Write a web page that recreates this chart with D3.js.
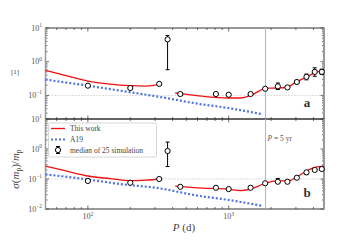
<!DOCTYPE html>
<html>
<head>
<meta charset="utf-8">
<script src="https://cdn.jsdelivr.net/npm/d3@7"></script>
<style>
body{margin:0;background:#fff;}
svg text{font-family:"Liberation Serif","DejaVu Serif",serif;}
</style>
</head>
<body>
<script>
// periods of the simulated samples (days)
const periods = [100, 200, 321, 368, 453, 811, 1000, 1430, 1815, 2233, 2613, 3047, 3566, 4083, 4580];
// panel a: median and error range
const medA = [0.195, 0.166, 0.22, 4.6, 0.11, 0.11, 0.105, 0.11, 0.158, 0.186, 0.173, 0.25, 0.355, 0.50, 0.50];
const loA  = [0.18, 0.155, 0.205, 0.58, 0.104, 0.104, 0.099, 0.104, 0.148, 0.15, 0.16, 0.225, 0.29, 0.37, 0.42];
const hiA  = [0.21, 0.178, 0.235, 6.0, 0.117, 0.117, 0.112, 0.117, 0.17, 0.234, 0.19, 0.28, 0.43, 0.66, 0.6];
// panel b
const medB = [0.086, 0.075, 0.1, 0.86, 0.055, 0.051, 0.046, 0.051, 0.072, 0.081, 0.081, 0.11, 0.167, 0.2, 0.215];
const loB  = [0.082, 0.071, 0.095, 0.26, 0.052, 0.048, 0.044, 0.048, 0.068, 0.072, 0.077, 0.104, 0.14, 0.19, 0.205];
const hiB  = [0.09, 0.079, 0.105, 1.7, 0.058, 0.054, 0.048, 0.054, 0.076, 0.104, 0.086, 0.116, 0.176, 0.21, 0.225];
// "This work" curve, two pieces
const fitP1 = [50, 70, 100, 144, 200, 260, 330];
const fitA1 = [0.557, 0.387, 0.265, 0.216, 0.195, 0.19, 0.216];
const fitB1 = [0.27, 0.185, 0.126, 0.103, 0.088, 0.092, 0.1];
const fitP2 = [417, 491, 650, 990, 1206, 1420, 1618, 1815, 2233, 2613, 3047, 3566, 4083, 4750];
const fitA2 = [0.118, 0.11, 0.095, 0.084, 0.084, 0.098, 0.129, 0.164, 0.166, 0.178, 0.257, 0.35, 0.47, 0.55];
const fitB2 = [0.058, 0.055, 0.05, 0.046, 0.041, 0.046, 0.058, 0.072, 0.086, 0.086, 0.117, 0.185, 0.245, 0.27];
// A19
const a19P = [50, 100, 170, 321, 600, 1000, 1750];
const a19A = [0.294, 0.195, 0.138, 0.091, 0.057, 0.042, 0.0275];
const a19B = [0.143, 0.096, 0.068, 0.049, 0.028, 0.02, 0.0126];

const legendLabels = ["This work", "A19", "median of 25 simulation"];
const P5yr = 5 * 365.25;

const width = 360, height = 240;
const left = 45.5, right = 324;
const svg = d3.select("body").append("svg").attr("width", width).attr("height", height);

const x = d3.scaleLog().domain([50, 4750]).range([left, right]);
const yA = d3.scaleLog().domain([0.02, 10]).range([119, 28]);
const yB = d3.scaleLog().domain([0.01, 10]).range([209, 119]);

const xMinor = [60,70,80,90,200,300,400,500,600,700,800,900,2000,3000,4000];
const xMajor = [100, 1000];

function panel(y, med, lo, hi, fit1, fit2, a19, tag, yMajors) {
  const [yb, yt] = y.range();
  const g = svg.append("g");
  g.append("rect").attr("x", left).attr("y", yt).attr("width", right - left).attr("height", yb - yt)
    .attr("fill", "none").attr("stroke", "#333").attr("stroke-width", 1);

  // reference lines
  g.append("line").attr("x1", left).attr("x2", right).attr("y1", y(0.1)).attr("y2", y(0.1))
    .attr("stroke", "#bbb").attr("stroke-width", 1).attr("stroke-dasharray", "1,2");
  g.append("line").attr("x1", x(P5yr)).attr("x2", x(P5yr)).attr("y1", yt).attr("y2", yb)
    .attr("stroke", "#b5b5b5").attr("stroke-width", 1);

  // ticks
  const ticks = g.append("g").attr("stroke", "#333").attr("stroke-width", 0.7);
  [[xMajor, 3.5], [xMinor, 2]].forEach(([vals, len]) => {
    vals.forEach(v => {
      ticks.append("line").attr("x1", x(v)).attr("x2", x(v)).attr("y1", yb).attr("y2", yb - len);
      ticks.append("line").attr("x1", x(v)).attr("x2", x(v)).attr("y1", yt).attr("y2", yt + len);
    });
  });
  const [d0, d1] = y.domain();
  for (let e = -3; e <= 1; e++) {
    for (let m = 1; m <= 9; m++) {
      const v = m * Math.pow(10, e);
      if (v < d0 || v > d1) continue;
      const len = m === 1 ? 3.5 : 2;
      ticks.append("line").attr("x1", left).attr("x2", left + len).attr("y1", y(v)).attr("y2", y(v));
      ticks.append("line").attr("x1", right).attr("x2", right - len).attr("y1", y(v)).attr("y2", y(v));
    }
  }
  // left/right spines look grey-ish in the reference
  g.append("line").attr("x1", left).attr("x2", left).attr("y1", yt).attr("y2", yb).attr("stroke", "#999").attr("stroke-width", 1.5);
  g.append("line").attr("x1", right).attr("x2", right).attr("y1", yt).attr("y2", yb).attr("stroke", "#999").attr("stroke-width", 2);

  yMajors.forEach(e => {
    const t = g.append("text").attr("x", 42).attr("y", y(Math.pow(10, e)) + 2.5).attr("text-anchor", "end")
      .attr("font-size", 8).attr("fill", "#555").text("10");
    t.append("tspan").attr("dy", -3.5).attr("font-size", 5.5).text(e < 0 ? "\u2212" + (-e) : e);
  });

  const line = d3.line().x(d => x(d[0])).y(d => y(d[1])).curve(d3.curveMonotoneX);
  g.append("path").datum(a19P.map((p, i) => [p, a19[i]])).attr("d", line)
    .attr("fill", "none").attr("stroke", "#4f74e0").attr("stroke-width", 2.2).attr("stroke-dasharray", "2,2");
  g.append("path").datum(fitP1.map((p, i) => [p, fit1[i]])).attr("d", line)
    .attr("fill", "none").attr("stroke", "#f21010").attr("stroke-width", 1.3);
  g.append("path").datum(fitP2.map((p, i) => [p, fit2[i]])).attr("d", line)
    .attr("fill", "none").attr("stroke", "#f21010").attr("stroke-width", 1.3);

  const pts = g.append("g");
  periods.forEach((p, i) => {
    const cx = x(p);
    pts.append("line").attr("x1", cx).attr("x2", cx).attr("y1", y(lo[i])).attr("y2", y(hi[i])).attr("stroke", "#000").attr("stroke-width", 1);
    [lo[i], hi[i]].forEach(v => pts.append("line").attr("x1", cx - 2).attr("x2", cx + 2).attr("y1", y(v)).attr("y2", y(v)).attr("stroke", "#000").attr("stroke-width", 1));
    pts.append("circle").attr("cx", cx).attr("cy", y(med[i])).attr("r", 2.6).attr("fill", "#fff").attr("stroke", "#000").attr("stroke-width", 1);
  });

  g.append("text").attr("x", 307).attr("y", yb - 12).attr("text-anchor", "middle")
    .attr("font-size", 13).attr("font-weight", "bold").attr("fill", "#333").text(tag);
  return g;
}

panel(yA, medA, loA, hiA, fitA1, fitA2, a19A, "a", [1, 0, -1]);
panel(yB, medB, loB, hiB, fitB1, fitB2, a19B, "b", [1, 0, -1, -2]);

// x tick labels
xMajor.forEach(v => {
  const t = svg.append("text").attr("x", x(v)).attr("y", 219).attr("text-anchor", "middle")
    .attr("font-size", 8).attr("fill", "#555").text("10");
  t.append("tspan").attr("dy", -3.5).attr("font-size", 5.5).text(Math.log10(v));
});

// P = 5 yr
const p5 = svg.append("text").attr("x", x(P5yr) + 2).attr("y", 141).attr("font-size", 7.5).attr("fill", "#555");
p5.append("tspan").attr("font-style", "italic").text("P");
p5.append("tspan").text(" = 5 yr");

// axis labels
svg.append("text").attr("x", 15).attr("y", 74).attr("text-anchor", "middle").attr("font-size", 7).attr("fill", "#444").text("[1]");
const yl = svg.append("text").attr("transform", "translate(19,169) rotate(-90)").attr("text-anchor", "middle")
  .attr("font-size", 11).attr("fill", "#444");
yl.append("tspan").attr("font-style", "italic").text("\u03c3");
yl.append("tspan").text("(");
yl.append("tspan").attr("font-style", "italic").text("m");
yl.append("tspan").attr("font-size", 7.5).attr("dy", 2).text("p");
yl.append("tspan").attr("dy", -2).text(")/");
yl.append("tspan").attr("font-style", "italic").text("m");
yl.append("tspan").attr("font-size", 7.5).attr("dy", 2).text("p");

const xl = svg.append("text").attr("x", 184).attr("y", 231).attr("text-anchor", "middle").attr("font-size", 11).attr("fill", "#444");
xl.append("tspan").attr("font-style", "italic").text("P");
xl.append("tspan").text(" (d)");

// legend
const lg = svg.append("g");
lg.append("rect").attr("x", 48.5).attr("y", 123).attr("width", 108).attr("height", 34).attr("rx", 1.5)
  .attr("fill", "#fff").attr("fill-opacity", 0.85).attr("stroke", "#ccc").attr("stroke-width", 0.8);
lg.append("line").attr("x1", 51).attr("x2", 65).attr("y1", 128.5).attr("y2", 128.5).attr("stroke", "#f21010").attr("stroke-width", 1.3);
lg.append("line").attr("x1", 51).attr("x2", 66).attr("y1", 139.5).attr("y2", 139.5).attr("stroke", "#4f74e0").attr("stroke-width", 2.2).attr("stroke-dasharray", "2,2");
lg.append("line").attr("x1", 58).attr("x2", 58).attr("y1", 146.5).attr("y2", 153.5).attr("stroke", "#000");
[146.5, 153.5].forEach(v => lg.append("line").attr("x1", 56).attr("x2", 60).attr("y1", v).attr("y2", v).attr("stroke", "#000"));
lg.append("circle").attr("cx", 58).attr("cy", 150).attr("r", 2.6).attr("fill", "#fff").attr("stroke", "#000");
legendLabels.forEach((s, i) => {
  lg.append("text").attr("x", 70).attr("y", 131 + i * 11).attr("font-size", 7.5).attr("fill", "#444").text(s);
});
</script>
</body>
</html>
